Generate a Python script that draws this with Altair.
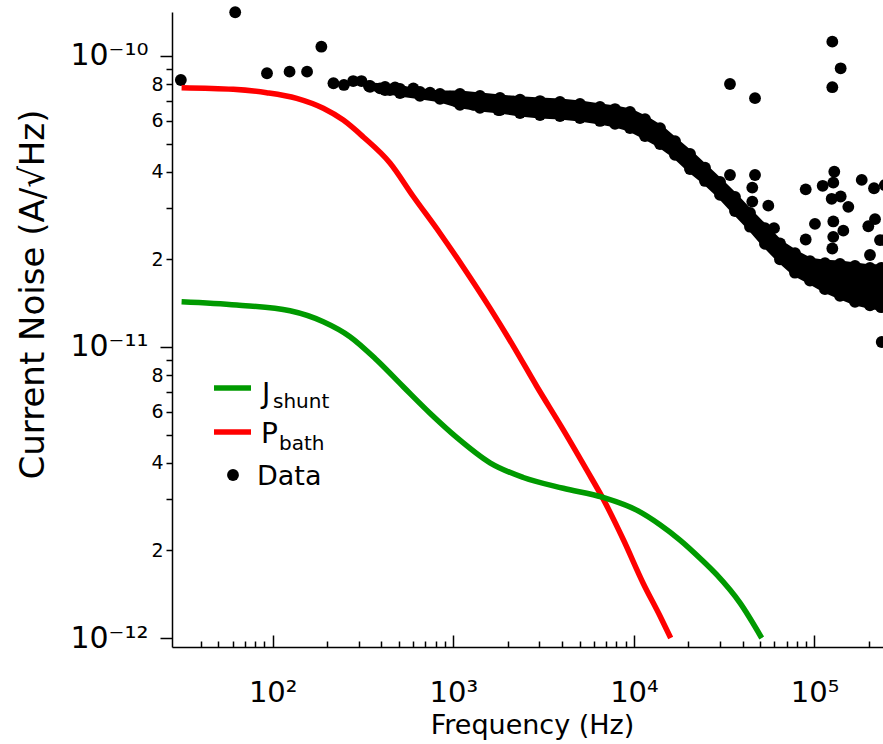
import altair as alt
import pandas as pd

FONT = "DejaVu Sans"

# ---------------- data ----------------
# model curves
pbath_f = [31.3, 60.5, 92.6, 135.8, 190.6, 246.0, 317.5, 446.1, 600.6, 844.0, 1136, 1597,
           2149, 2896, 4066, 5477, 6769, 8735, 11270, 13950, 15990]
pbath_v = [7.78e-11, 7.68e-11, 7.48e-11, 7.15e-11, 6.61e-11, 6.02e-11, 5.27e-11, 4.29e-11,
           3.29e-11, 2.46e-11, 1.88e-11, 1.36e-11, 1.007e-11, 7.33e-12, 5.19e-12, 3.78e-12,
           3.00e-12, 2.18e-12, 1.54e-12, 1.19e-12, 1.00e-12]

jshunt_f = [31.3, 63.2, 124.7, 190.6, 267.9, 376.6, 528.7, 743.0, 1044, 1597, 2442, 4066,
            6769, 10360, 13950, 18000, 23230, 28740, 38680, 51010]
jshunt_v = [1.431e-11, 1.394e-11, 1.332e-11, 1.221e-11, 1.085e-11, 9.02e-12, 7.30e-12,
            5.92e-12, 4.89e-12, 4.00e-12, 3.56e-12, 3.27e-12, 3.04e-12, 2.75e-12, 2.45e-12,
            2.17e-12, 1.88e-12, 1.65e-12, 1.32e-12, 1.00e-12]

# measured data: the dense band (upper / lower dot centres)
band_f = [346, 419, 507, 654, 844, 1089, 1405, 1814, 2341, 3021, 3898, 5030, 6492, 7859,
          9515, 11520, 13950, 16890, 20450, 24750, 29980, 36280, 43940, 53190, 64420, 77980,
          94440, 114300, 138400, 167600, 202900, 234000, 270000]
band_hi = [7.89e-11, 7.83e-11, 7.70e-11, 7.52e-11, 7.40e-11, 7.40e-11, 7.29e-11, 7.17e-11,
           7.07e-11, 7.00e-11, 6.95e-11, 6.84e-11, 6.68e-11, 6.57e-11, 6.42e-11, 6.07e-11,
           5.65e-11, 5.10e-11, 4.61e-11, 4.13e-11, 3.69e-11, 3.28e-11, 2.89e-11, 2.56e-11,
           2.27e-11, 2.10e-11, 1.97e-11, 1.94e-11, 1.93e-11, 1.90e-11, 1.87e-11, 1.87e-11,
           1.87e-11]
band_lo = [7.83e-11, 7.64e-11, 7.46e-11, 7.29e-11, 7.12e-11, 6.79e-11, 6.63e-11, 6.52e-11,
           6.37e-11, 6.27e-11, 6.22e-11, 6.12e-11, 5.98e-11, 5.84e-11, 5.65e-11, 5.31e-11,
           4.98e-11, 4.57e-11, 4.09e-11, 3.72e-11, 3.33e-11, 2.93e-11, 2.59e-11, 2.26e-11,
           2.00e-11, 1.80e-11, 1.69e-11, 1.58e-11, 1.50e-11, 1.43e-11, 1.39e-11, 1.37e-11,
           1.37e-11]

# measured data: individual dots at low frequency / along the band edge
dots_f = [31, 62, 93, 124, 155, 186, 217, 248, 279, 310, 341, 393, 446, 476, 529, 601, 654,
          743, 844, 959, 1044, 1186, 1290, 1405, 1597, 1775, 1976, 2149, 2442, 2773, 3290,
          3578, 4429, 5030, 5961]
dots_v = [8.27e-11, 1.413e-10, 8.72e-11, 8.83e-11, 8.83e-11, 1.076e-10, 8.06e-11, 7.95e-11,
          8.20e-11, 8.20e-11, 7.88e-11, 7.74e-11, 7.64e-11, 7.80e-11, 7.54e-11, 7.74e-11,
          7.34e-11, 7.48e-11, 7.24e-11, 7.24e-11, 6.97e-11, 7.16e-11, 6.79e-11, 6.97e-11,
          6.88e-11, 6.52e-11, 6.70e-11, 6.97e-11, 6.70e-11, 6.61e-11, 6.84e-11, 6.52e-11,
          6.61e-11, 6.43e-11, 6.35e-11]

# measured data: scattered outliers at high frequency
out_f = [34050, 46840, 34050, 46840, 45240, 45240, 55500, 59670, 89400, 111000, 128700,
         127100, 124500, 139600, 153900, 182600, 213600, 100600, 89400, 127100, 144400,
         127000, 125500, 216300, 198600, 230500, 202900, 235600, 125500, 139600, 125500,
         245000, 245000]
out_v = [8.01e-11, 7.16e-11, 3.90e-11, 3.90e-11, 3.53e-11, 3.16e-11, 3.06e-11, 2.56e-11,
         3.48e-11, 3.58e-11, 4.00e-11, 3.67e-11, 3.23e-11, 3.29e-11, 3.03e-11, 3.75e-11,
         3.51e-11, 2.65e-11, 2.34e-11, 2.70e-11, 2.51e-11, 2.39e-11, 2.18e-11, 2.75e-11,
         2.60e-11, 2.33e-11, 2.07e-11, 1.04e-11, 1.12e-10, 9.07e-11, 7.81e-11, 3.60e-11,
         2.33e-11]

# axis ticks and labels
x_ticks = [40, 50, 60, 70, 80, 90,
           100, 200, 300, 400, 500, 600, 700, 800, 900,
           1000, 2000, 3000, 4000, 5000, 6000, 7000, 8000, 9000,
           10000, 20000, 30000, 40000, 50000, 60000, 70000, 80000, 90000,
           100000, 200000]
x_major = [100, 1000, 10000, 100000]
x_major_labels = ["10²", "10³", "10⁴", "10⁵"]

y_ticks = [1e-12, 2e-12, 3e-12, 4e-12, 5e-12, 6e-12, 7e-12, 8e-12, 9e-12,
           1e-11, 2e-11, 3e-11, 4e-11, 5e-11, 6e-11, 7e-11, 8e-11, 9e-11, 1e-10]
y_tick_labels = ["10⁻¹²", "2", "", "4", "", "6", "", "8", "",
                 "10⁻¹¹", "2", "", "4", "", "6", "", "8", "", "10⁻¹⁰"]
y_major = [1e-12, 1e-11, 1e-10]

x_domain = [27.7, 2.395e5]
y_domain = [9.313e-13, 1.416e-10]

# ---------------- tables ----------------
pbath_df = pd.DataFrame({"f": pbath_f, "v": pbath_v})
jshunt_df = pd.DataFrame({"f": jshunt_f, "v": jshunt_v})
band_df = pd.DataFrame({"f": band_f, "hi": band_hi, "lo": band_lo})
band_pts = pd.DataFrame({"f": band_f + band_f, "v": band_hi + band_lo})
dots_df = pd.DataFrame({"f": dots_f + out_f, "v": dots_v + out_v})

# ---------------- axes ----------------
x_major_test = " || ".join(f"datum.value == {v!r}" for v in x_major)
x_label_expr = " : ".join(f"datum.value == {v!r} ? '{t}'" for v, t in zip(x_major, x_major_labels)) + " : ''"
y_major_test = " || ".join(f"datum.value == {v!r}" for v in y_major)
y_label_expr = " : ".join(f"datum.value == {v!r} ? '{t}'" for v, t in zip(y_ticks, y_tick_labels) if t) + " : ''"

x_axis = alt.Axis(
    values=x_ticks, labelExpr=x_label_expr, grid=False,
    tickSize={"condition": {"test": x_major_test, "value": -12}, "value": -6},
    labelPadding=43, labelFontSize=29, labelFont=FONT, labelColor="black",
    labelOverlap=False, labelFlush=False, labelBound=False,
    domainColor="black", domainWidth=1.5, tickColor="black", tickWidth=1.5,
    title="Frequency (Hz)", titleFont=FONT, titleFontSize=27, titleFontWeight="normal",
    titleColor="black", titleX=360, titleY=86, titleAlign="center", titleBaseline="alphabetic",
)
y_axis = alt.Axis(
    values=y_ticks, labelExpr=y_label_expr, grid=False,
    tickSize={"condition": {"test": y_major_test, "value": 12}, "value": 6},
    labelPadding={"condition": {"test": y_major_test, "value": 12}, "value": 3},
    labelFontSize={"condition": {"test": y_major_test, "value": 30}, "value": 19},
    labelFont=FONT, labelColor="black",
    labelOverlap=False, labelFlush=False, labelBound=False,
    domainColor="black", domainWidth=1.5, tickColor="black", tickWidth=1.5,
    title="Current Noise (A/√Hz)", titleFont=FONT, titleFontSize=34, titleFontWeight="normal",
    titleColor="black", titleX=-129, titleY=282, titleAlign="center", titleBaseline="alphabetic",
)

xs = alt.Scale(type="log", domain=x_domain, nice=False, zero=False)
ys = alt.Scale(type="log", domain=y_domain, nice=False, zero=False)

X = alt.X("f:Q", scale=xs, axis=x_axis)
Y = alt.Y("v:Q", scale=ys, axis=y_axis)

DOT = 140

band_area = alt.Chart(band_df).mark_area(
    color="black", opacity=1, stroke="black", strokeWidth=7, strokeJoin="round"
).encode(x=X, y=alt.Y("hi:Q", scale=ys, axis=y_axis), y2="lo:Q")
band_dots = alt.Chart(band_pts).mark_circle(size=DOT, color="black", opacity=1).encode(x=X, y=Y)
dots = alt.Chart(dots_df).mark_circle(size=DOT, color="black", opacity=1).encode(x=X, y=Y)
red = alt.Chart(pbath_df).mark_line(color="#ff0000", strokeWidth=5.5,
                                    interpolate="monotone").encode(x=X, y=Y)
green = alt.Chart(jshunt_df).mark_line(color="#009a00", strokeWidth=5.5,
                                       interpolate="monotone").encode(x=X, y=Y)

# ---------------- legend (manual, for subscripts) ----------------
one = pd.DataFrame({"k": [0]})
leg = []
leg.append(alt.Chart(one).mark_rule(color="#009a00", strokeWidth=5.5).encode(
    x=alt.value(42), x2=alt.value(79), y=alt.value(376)))
leg.append(alt.Chart(one).mark_rule(color="#ff0000", strokeWidth=5.5).encode(
    x=alt.value(42), x2=alt.value(79), y=alt.value(420)))
leg.append(alt.Chart(one).mark_circle(size=DOT, color="black", opacity=1).encode(
    x=alt.value(61), y=alt.value(463)))
for txt, x, y, fs in [("J", 90, 391, 28), ("shunt", 101, 396, 20),
                      ("P", 89, 431, 28), ("bath", 107, 438, 20),
                      ("Data", 85, 473, 27)]:
    leg.append(alt.Chart(pd.DataFrame({"t": [txt]})).mark_text(
        font=FONT, fontSize=fs, align="left", baseline="alphabetic", color="black").encode(
        x=alt.value(x), y=alt.value(y), text="t:N"))

chart = alt.layer(band_area, band_dots, dots, red, green, *leg).properties(
    width=711, height=635,
    autosize=alt.AutoSizeParams(type="none"),
    padding={"left": 172, "top": 12, "right": 0, "bottom": 97},
    background="white",
).configure_view(stroke=None)

chart.save("out.html", embed_options={"renderer": "svg", "actions": False})
